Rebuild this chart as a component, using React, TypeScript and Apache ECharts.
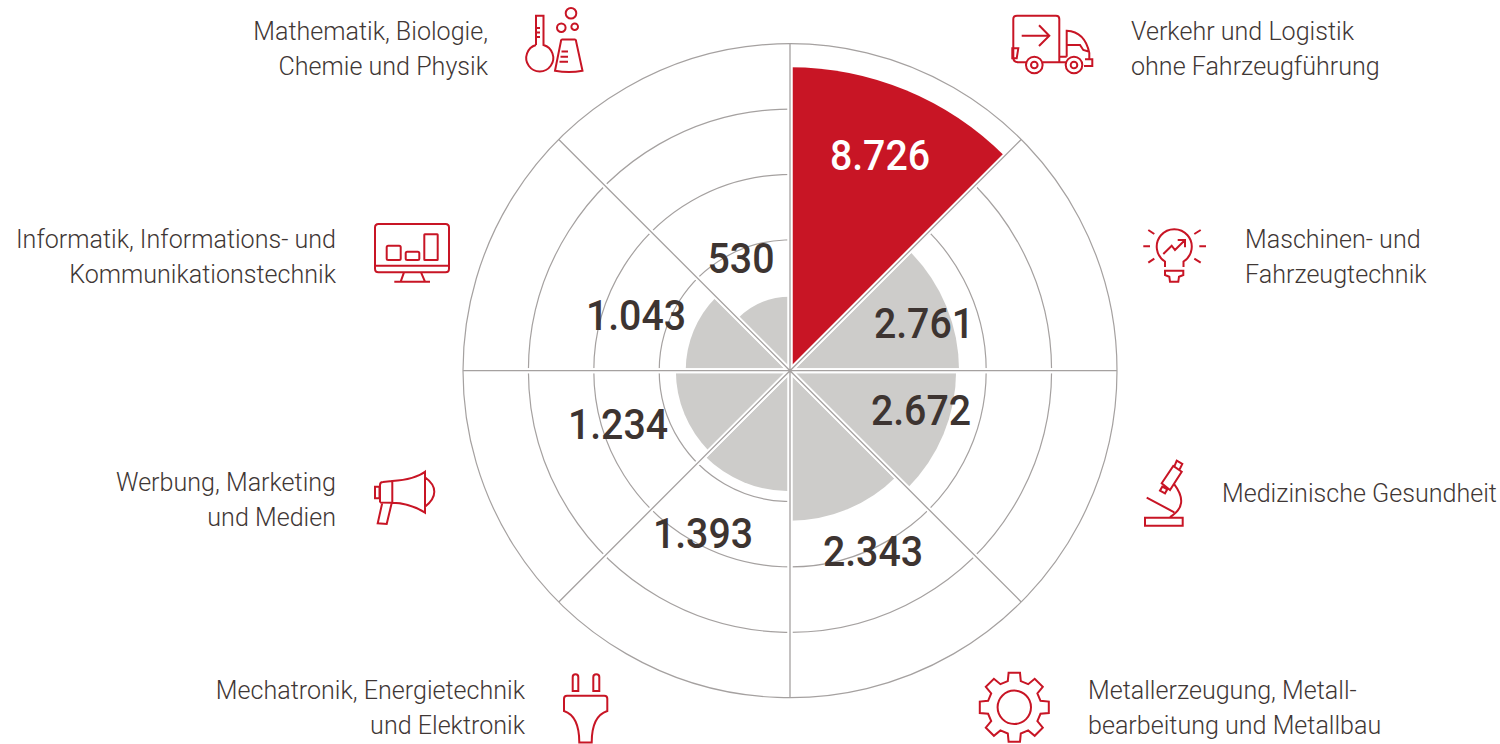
import React, { useEffect, useRef } from "react";
import * as echarts from "echarts";

const categories = [
  "Verkehr und Logistik ohne Fahrzeugführung",
  "Maschinen- und Fahrzeugtechnik",
  "Medizinische Gesundheit",
  "Metallerzeugung, Metallbearbeitung und Metallbau",
  "Mechatronik, Energietechnik und Elektronik",
  "Werbung, Marketing und Medien",
  "Informatik, Informations- und Kommunikationstechnik",
  "Mathematik, Biologie, Chemie und Physik",
];
const valueLabels = ["8.726", "2.761", "2.672", "2.343", "1.393", "1.234", "1.043", "530"];
// sector reach, in units where one ring = 20
const sectorReach = [92.8, 51.7, 50.8, 45.9, 36.9, 34.9, 31.9, 22.6];
const valueLabelCentres = [
  [880, 155], [924, 323], [921, 410], [873, 551], [703, 533], [618, 424], [636, 315], [741, 258],
];
const captions: [string[], "left" | "right", number, number][] = [
  [["Verkehr und Logistik", "ohne Fahrzeugführung"], "left", 1131, 31],
  [["Maschinen- und", "Fahrzeugtechnik"], "left", 1245, 239],
  [["Medizinische Gesundheit"], "left", 1222, 493],
  [["Metallerzeugung, Metall-", "bearbeitung und Metallbau"], "left", 1088, 690],
  [["Mechatronik, Energietechnik", "und Elektronik"], "right", 525, 690],
  [["Werbung, Marketing", "und Medien"], "right", 336, 482],
  [["Informatik, Informations- und", "Kommunikationstechnik"], "right", 336, 239],
  [["Mathematik, Biologie,", "Chemie und Physik"], "right", 488, 31],
];

const RED = "#c81525";
const GREY = "#cdccca";
const LINE = "#a5a1a0";
const INK = "#3d3431";
const LABEL = "#3f3735";
const LABEL_FONT = "Roboto";
const VALUE_FONT = "Roboto";

const circle = (cx: number, cy: number, r: number) =>
  `M${cx - r} ${cy}A${r} ${r} 0 1 0 ${cx + r} ${cy}A${r} ${r} 0 1 0 ${cx - r} ${cy}Z`;
const rrect = (x0: number, y0: number, x1: number, y1: number, r: number) =>
  `M${x0 + r} ${y0}L${x1 - r} ${y0}Q${x1} ${y0} ${x1} ${y0 + r}L${x1} ${y1 - r}Q${x1} ${y1} ${x1 - r} ${y1}L${x0 + r} ${y1}Q${x0} ${y1} ${x0} ${y1 - r}L${x0} ${y0 + r}Q${x0} ${y0} ${x0 + r} ${y0}Z`;

function gearPath() {
  const cx = 1014.3, cy = 707.3, tip = 35, root = 27, dTip = 9.4, dRoot = 14;
  let d = "";
  for (let i = 0; i < 8; i++) {
    const a = i * 45 - 90;
    [[root, -dRoot], [tip, -dTip], [tip, dTip], [root, dRoot]].forEach(([r, da], j) => {
      const t = ((a + da) * Math.PI) / 180;
      d += `${i === 0 && j === 0 ? "M" : "L"}${(cx + r * Math.cos(t)).toFixed(1)} ${(cy + r * Math.sin(t)).toFixed(1)}`;
    });
  }
  return d + "Z" + circle(cx, cy, 16.7);
}

const icons: Record<string, string> = {
  flask:
    "M536 45L536 15.7L543.5 15.7L543.5 45" +
    "A13.5 13.5 0 1 1 536 45" +
    "M536 28L540 28M536 32.4L540 32.4M536 37L540 37" +
    "M562 39.5L575 39.5Q576 39.5 576 41L582.5 70.7Q569 73.5 555 70.7L561 41Q561 39.5 562 39.5Z" +
    "M561.5 51.5L568 51.5M560.5 56.7L568 56.7M559.5 61.7L568 61.7" +
    circle(571, 13.3, 5.3) + circle(561.3, 27.7, 4.3) + circle(574.7, 26.7, 3.3),
  truck:
    "M1026 62.3L1018 62.3Q1013.3 62 1013.3 58L1013.3 19Q1013.3 15.7 1017 15.7L1056 15.7Q1059.3 15.7 1059.3 19L1059.3 56.7L1066.7 56.7" +
    "M1043 62.3L1059.3 62.3L1066 62.3" +
    "M1059.3 56.7L1059.3 62.3M1066.7 56.7L1066.7 30.7Q1085 31.7 1089.3 53L1089.3 59.3" +
    "M1066.7 45L1080 45L1083.3 50L1089.3 51.7" +
    "M1085 59.3L1092.3 59.3L1092.3 66L1084 66" +
    "M1012.3 48.3L1018.3 48.3L1016.7 58.3L1012.3 58.3Z" +
    "M1021.7 35.7L1049.3 35.7M1039 25.3L1049.3 35.7L1039 46" +
    circle(1034.3, 65, 8.3) + circle(1034.3, 65, 3.3) + circle(1074, 65, 8.3) + circle(1074, 65, 3.3),
  bulb:
    "M1165 267L1165 261.5A17.5 17.5 0 1 1 1183.5 261.5L1183.5 267" +
    "M1165 270.7L1183.3 270.7L1183.3 275L1179 276.7L1178.3 281.7L1170 281.7L1169.3 276.7L1165 275Z" +
    "M1148.3 230L1154.3 234M1143.3 246.3L1150 246.3M1148.3 262.7L1154.3 258.7" +
    "M1200.7 230L1194.3 234M1199.3 246.3L1206 246.3M1200.7 262.7L1194.3 258.7" +
    "M1163.3 254L1171.7 245.7L1175 250L1185 240M1177.7 240L1185 240L1185 247.3",
  microscope:
    "M1145 517.7L1182.7 517.7L1182.7 525.7L1145 525.7Z" +
    "M1174.3 484.3Q1190 505 1170 517" +
    "M1146.7 497.7L1174.3 512.3" +
    "M1173.3 466L1181.7 471.7L1170 490L1161.7 483.3Z" +
    "M1176.7 460.7L1182.3 464L1179.3 470L1174.3 466.7Z" +
    "M1162.3 486.7L1167.3 489.3L1165 493.3L1160 490.7Z",
  gear: gearPath(),
  plug:
    "M572.7 691L572.7 677Q572.7 674.3 575.5 674.3Q578.3 674.3 578.3 677L578.3 691Z" +
    "M593.3 691L593.3 677Q593.3 674.3 596.3 674.3Q599.3 674.3 599.3 677L599.3 691Z" +
    "M567 695.7L604.3 695.7Q607.3 695.7 607.3 698.7L607.3 711Q591.7 716 591.7 742.5L579.3 742.5Q579.3 716 564 711L564 698.7Q564 695.7 567 695.7Z",
  megaphone:
    "M392.3 481Q415 479.5 425 471.7L425 512.7Q410 503 392.3 502.7Z" +
    "M425 477.3Q434.3 484 434.3 491.7Q434.3 499.5 425 506.7" +
    "M380 502.5L380 485Q380 482 383 482L392.3 481M380 502.5L392.3 502.7" +
    "M375 486.7L379.5 486.7L379.5 498.3L375 498.3Z" +
    "M382.3 502.7L377.7 523.3L386.7 524L391.7 503",
  monitor:
    rrect(375, 224, 449, 272.3, 3.5) +
    "M375 265.7L449 265.7" +
    "M404 272.3L400.7 281.7M421 272.3L425 281.7M394.3 281.7L430 281.7" +
    rrect(386.7, 245.7, 400.7, 260, 1.5) + rrect(405.7, 251.7, 419.3, 260, 1.5) + rrect(424.3, 234.3, 437.7, 260, 0.5),
};
Object.keys(icons).forEach((k) => {
  echarts.graphic.registerShape("icon-" + k, (echarts.graphic as any).extendPath(icons[k], {}));
});

export default function App() {
  const ref = useRef<HTMLDivElement>(null);
  useEffect(() => {
    const chart = echarts.init(ref.current!, undefined, { renderer: "svg" });
    const graphics: any[] = [];
    captions.forEach(([lines, align, x, y]) => {
      lines.forEach((t, i) => {
        graphics.push({
          type: "text", x, y: y + i * 35, scaleY: 1.03, silent: true,
          style: { text: t, font: `300 25.1px ${LABEL_FONT}`, fill: LABEL, align, verticalAlign: "middle" },
        });
      });
    });
    valueLabels.forEach((t, i) => {
      graphics.push({
        type: "text", x: valueLabelCentres[i][0], y: valueLabelCentres[i][1], scaleY: 1.1, z: 20, silent: true,
        style: { text: t, font: `500 39.3px ${VALUE_FONT}`, fill: i === 0 ? "#ffffff" : INK, align: "center", verticalAlign: "middle" },
      });
    });
    Object.keys(icons).forEach((k) => {
      graphics.push({ type: "icon-" + k, x: 0, y: 0, silent: true, style: { fill: "none", stroke: RED, lineWidth: 2 } });
    });
    chart.setOption({
      animation: false,
      backgroundColor: "#ffffff",
      polar: { center: [790, 370.7], radius: 327 },
      angleAxis: {
        type: "category", data: categories, startAngle: 90, z: 5,
        axisLine: { show: false }, axisTick: { show: false }, axisLabel: { show: false },
        splitLine: { show: true, lineStyle: { color: LINE, width: 1.3 } },
      },
      radiusAxis: {
        type: "value", min: 0, max: 100, interval: 20, z: 0,
        axisLine: { show: false }, axisTick: { show: false }, axisLabel: { show: false },
        splitLine: { show: true, lineStyle: { color: LINE, width: 1.2 } },
      },
      series: [
        {
          type: "bar", coordinateSystem: "polar", name: "Werte", barCategoryGap: "0%", barGap: "-100%", z: 2, silent: true,
          data: sectorReach.map((v, i) => ({ value: v, itemStyle: { color: i === 0 ? RED : GREY } })),
        },
        {
          type: "bar", coordinateSystem: "polar", name: "Abstand", barCategoryGap: "0%", barGap: "-100%", z: 3, silent: true,
          data: categories.map(() => 98.6),
          itemStyle: { color: "transparent", borderColor: "#ffffff", borderWidth: 5 },
        },
      ],
      graphic: graphics,
    });
    return () => chart.dispose();
  }, []);
  return <div ref={ref} style={{ position: "absolute", left: 0, top: 0, width: 1500, height: 744 }} />;
}
